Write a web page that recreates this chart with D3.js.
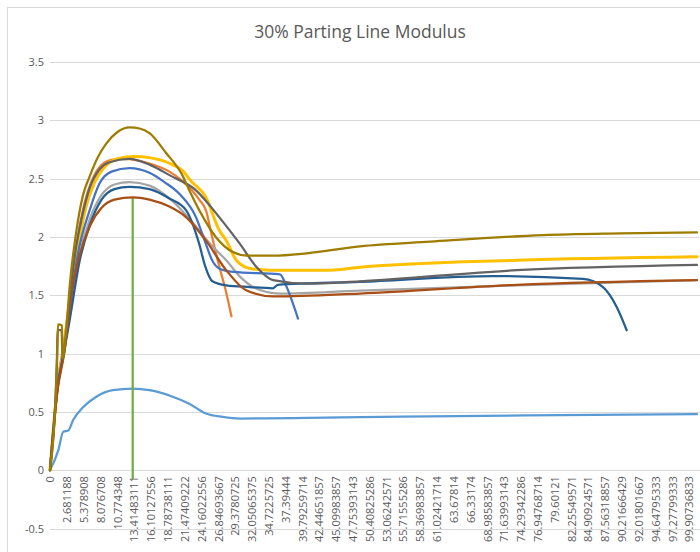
<!DOCTYPE html>
<html>
<head>
<meta charset="utf-8">
<script src="https://cdn.jsdelivr.net/npm/d3@7"></script>
<style>
  body { margin: 0; background: #fff; }
  svg { display: block; font-family: "Open Sans", "Liberation Sans", sans-serif; }
</style>
</head>
<body>
<svg width="700" height="552"></svg>
<script>
// Category labels shown on the x axis (every Nth sample time)
const xLabels = ["0", "2.681188", "5.378908", "8.076708", "10.774348", "13.41483111",
  "16.10127556", "18.78738111", "21.47409222", "24.16022556", "26.84693667", "29.3780725",
  "32.05065375", "34.7225725", "37.39444", "39.79259714", "42.44651857", "45.09983857",
  "47.75393143", "50.40825286", "53.06242571", "55.71555286", "58.36983857", "61.02421714",
  "63.67814", "66.33174", "68.98583857", "71.63993143", "74.29342286", "76.94768714",
  "79.60121", "82.25549571", "84.90924571", "87.56318857", "90.21666429", "92.01801667",
  "94.64795333", "97.27799333", "99.90736833"];
const yTicks = [-0.5, 0, 0.5, 1, 1.5, 2, 2.5, 3, 3.5];

// Series values: [time, modulus]
const lightBlue = [[0, 0], [1.32, 0.17], [2.11, 0.33], [2.91, 0.34], [3.7, 0.43], [5.29, 0.54],
  [7.42, 0.63], [10.05, 0.686], [13.23, 0.7], [15.88, 0.686], [19.58, 0.63], [22.23, 0.57],
  [24.88, 0.486], [27.52, 0.457], [30.17, 0.443], [45.75, 0.452], [75, 0.47], [101.16, 0.48]];
const orange = [[0, 0], [1.3, 0.8], [2.1, 1.05], [3.18, 1.5],
  [4.29, 1.95], [5.56, 2.3], [6.67, 2.48], [7.94, 2.6], [9.85, 2.66], [11.91, 2.67],
  [15.88, 2.63], [19.06, 2.56], [21.12, 2.48], [23.82, 2.32], [24.88, 2.23], [25.88, 2.0],
  [27.0, 1.75], [27.95, 1.55], [28.85, 1.32]];
const gray = [[0, 0], [1.3, 0.74], [2.1, 0.98], [3.18, 1.35],
  [4.76, 1.85], [6.35, 2.15], [8.26, 2.36], [10.32, 2.45], [12.7, 2.47], [15.88, 2.44],
  [19.06, 2.33], [23.3, 2.09], [25.41, 1.95], [28.06, 1.8], [30.17, 1.66], [32.29, 1.57],
  [36.53, 1.515], [48.9, 1.54], [71.01, 1.58], [101.16, 1.63]];
const yellow = [[0, 0], [1.3, 0.77], [2.1, 1.0], [3.18, 1.45],
  [4.45, 1.9], [5.72, 2.25], [7.15, 2.47], [8.73, 2.6], [10.8, 2.67], [13.5, 2.69],
  [15.88, 2.68], [19.53, 2.62], [21.12, 2.57], [22.5, 2.48], [24.88, 2.34], [27.0, 2.06],
  [28.06, 1.97], [29.6, 1.8], [31.76, 1.73], [34.94, 1.715], [44.17, 1.715], [48.9, 1.74],
  [73.64, 1.8], [101.16, 1.83]];
const blue = [[0, 0], [1.3, 0.76], [2.1, 0.99], [3.18, 1.4],
  [4.45, 1.85], [6.35, 2.23], [7.94, 2.46], [9.85, 2.56], [12.7, 2.59], [15.88, 2.55],
  [18.26, 2.47], [20.64, 2.37], [23.3, 2.17], [24.88, 1.94], [25.88, 1.8], [27.0, 1.73],
  [29.11, 1.7], [36.53, 1.68], [37.58, 1.57], [39.19, 1.3]];
const green = [[13.2, -0.07], [13.2, 2.33]];
const darkBlue = [[0, 0], [1.3, 0.74], [2.1, 0.97], [3.18, 1.3],
  [4.76, 1.8], [6.35, 2.1], [8.26, 2.32], [10.32, 2.41], [12.7, 2.43], [15.88, 2.41],
  [19.06, 2.33], [21.71, 2.23], [23.82, 1.94], [24.77, 1.75], [25.93, 1.62], [28.06, 1.585],
  [31.76, 1.57], [35.42, 1.56], [36.2, 1.59], [48.9, 1.615], [69.9, 1.665], [84.11, 1.64],
  [87.26, 1.57], [89.42, 1.4], [90.75, 1.2]];
const brown = [[0, 0], [1.3, 0.72], [2.1, 0.95], [3.7, 1.6],
  [4.76, 1.85], [6.35, 2.09], [8.26, 2.25], [10.32, 2.32], [13.23, 2.34], [15.88, 2.32],
  [19.06, 2.26], [21.71, 2.17], [24.88, 1.97], [28.06, 1.715], [31.24, 1.54], [35.47, 1.49],
  [48.9, 1.515], [73.64, 1.59], [101.16, 1.63]];
const darkGray = [[0, 0], [1.1, 0.95], [1.22, 1.2], [1.85, 1.2], [2.0, 0.95], [3.18, 1.5],
  [4.13, 1.9], [5.24, 2.2], [6.35, 2.42], [7.94, 2.58], [9.53, 2.64], [12.7, 2.67],
  [15.88, 2.62], [19.06, 2.53], [23.3, 2.4], [27.0, 2.17], [30.17, 1.94], [32.83, 1.74],
  [35.42, 1.63], [40.5, 1.6], [48.9, 1.62], [73.64, 1.715], [101.16, 1.76]];
const gold = [[0, 0], [1.15, 0.98], [1.27, 1.25], [1.9, 1.24], [2.02, 0.96], [2.65, 1.25],
  [3.18, 1.6], [4.24, 2.06], [5.24, 2.35], [6.35, 2.52], [7.62, 2.68], [9.0, 2.8],
  [10.8, 2.9], [12.7, 2.94], [14.3, 2.93], [15.88, 2.89], [18.53, 2.72], [21.12, 2.53],
  [22.23, 2.4], [23.82, 2.23], [26.47, 2.0], [29.06, 1.87], [31.24, 1.84], [35.42, 1.84],
  [40.5, 1.86], [48.9, 1.92], [60, 1.96], [77.79, 2.015], [90, 2.03], [101.16, 2.04]];

// Drawing order and colours (Excel office palette)
const series = [
  { data: lightBlue, color: "#5B9BD5" },
  { data: orange, color: "#ED7D31" },
  { data: gray, color: "#A5A5A5" },
  { data: yellow, color: "#FFC000", width: 3 },
  { data: blue, color: "#4472C4" },
  { data: green, color: "#70AD47", straight: true },
  { data: darkBlue, color: "#255E91" },
  { data: brown, color: "#A94E14" },
  { data: darkGray, color: "#636363" },
  { data: gold, color: "#9E7C00" }
];

const svg = d3.select("svg");
const plotLeft = 50, plotRight = 705, plotTop = 62, plotBottom = 528.5;
const step = 16.816;

// Category axis: labels evenly spaced, values placed piecewise between them
const xVals = xLabels.map(Number);
const x = d3.scaleLinear()
  .domain(xVals)
  .range(xVals.map((d, i) => plotLeft + i * step));

const y = d3.scaleLinear()
  .domain([-0.5, 3.5])
  .range([plotBottom, plotTop]);

// Chart border
svg.append("rect")
  .attr("x", 7.5).attr("y", 7.5)
  .attr("width", 740).attr("height", 600)
  .attr("fill", "none")
  .attr("stroke", "#d9d9d9");

// Title
svg.append("text")
  .attr("x", 360)
  .attr("y", 38)
  .attr("text-anchor", "middle")
  .style("font-size", "17.5px")
  .style("fill", "#595959")
  .text("30% Parting Line Modulus");

// Gridlines
svg.append("g")
  .selectAll("line")
  .data(yTicks)
  .join("line")
  .attr("x1", plotLeft).attr("x2", plotRight)
  .attr("y1", d => Math.round(y(d)) + 0.5)
  .attr("y2", d => Math.round(y(d)) + 0.5)
  .attr("stroke", "#d9d9d9");

// Y axis labels
const yAxis = svg.append("g")
  .attr("transform", `translate(${plotLeft - 6},0)`)
  .call(d3.axisLeft(y).tickValues(yTicks).tickSize(0).tickPadding(0).tickFormat(d => String(d)));
yAxis.select(".domain").remove();
yAxis.selectAll("text")
  .style("font-size", "11px")
  .style("fill", "#595959")
  .style("font-family", "'Open Sans', sans-serif");

// Lines
svg.append("clipPath").attr("id", "plot")
  .append("rect")
  .attr("x", plotLeft - 5).attr("y", plotTop - 10)
  .attr("width", plotRight - plotLeft + 5).attr("height", plotBottom - plotTop + 20);

const smooth = d3.line()
  .x(d => x(d[0]))
  .y(d => y(d[1]))
  .curve(d3.curveMonotoneX);
const straight = d3.line()
  .x(d => x(d[0]))
  .y(d => y(d[1]));

const plot = svg.append("g").attr("clip-path", "url(#plot)");
series.forEach(s => {
  plot.append("path")
    .datum(s.data)
    .attr("fill", "none")
    .attr("stroke", s.color)
    .attr("stroke-width", s.width || 2.25)
    .attr("stroke-linejoin", "round")
    .attr("stroke-linecap", "round")
    .attr("d", s.straight ? straight : smooth);
});

// X axis labels, rotated
const xAxis = svg.append("g")
  .attr("transform", `translate(0,${y(0)})`)
  .call(d3.axisBottom(x).tickValues(xVals).tickSize(0).tickFormat((d, i) => xLabels[i]));
xAxis.select(".domain").remove();
xAxis.selectAll("text")
  .attr("transform", "rotate(-90)")
  .attr("text-anchor", "end")
  .attr("x", -6)
  .attr("y", 0)
  .attr("dy", "0.35em")
  .style("font-size", "11px")
  .style("fill", "#595959")
  .style("font-family", "'Open Sans', sans-serif");
</script>
</body>
</html>
